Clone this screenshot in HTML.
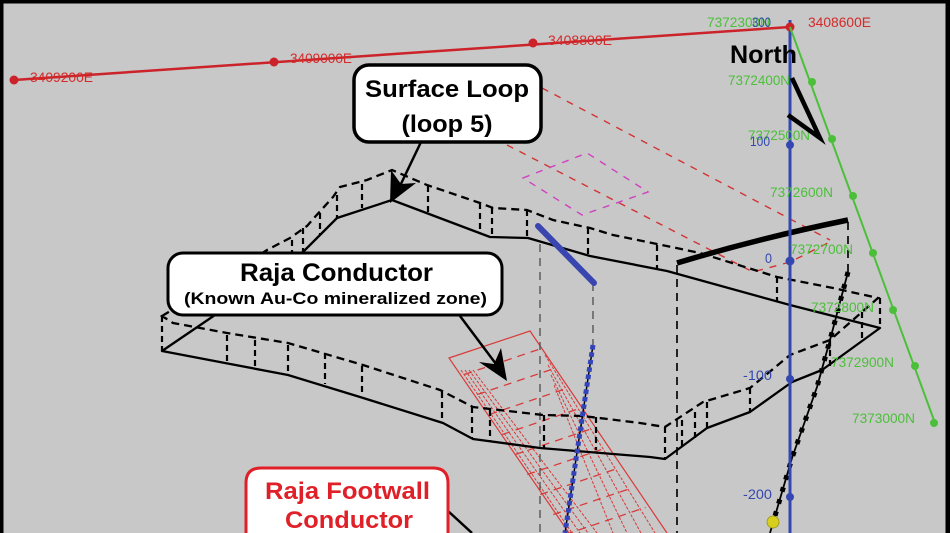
<!DOCTYPE html>
<html><head><meta charset="utf-8"><style>
html,body{margin:0;padding:0;background:#c8c8c8;width:950px;height:533px;overflow:hidden;}
svg{display:block;}
text{font-family:"Liberation Sans",Arial,sans-serif;}
</style></head><body>
<svg width="950" height="533" viewBox="0 0 950 533" xmlns="http://www.w3.org/2000/svg">
<rect x="0" y="0" width="950" height="533" fill="#c8c8c8"/>
<defs>
<clipPath id="pl"><polygon points="449,358 530,331 680,560 580,560"/></clipPath>
<clipPath id="fr"><rect x="0" y="0" width="950" height="533"/></clipPath>
</defs>
<g clip-path="url(#fr)">

<!-- red conductor plate -->
<g clip-path="url(#pl)" fill="none" stroke="#d83a3a">
<g stroke-width="1.3" stroke-dasharray="8 6">
<line x1="451" y1="379" x2="611" y2="325"/>
<line x1="464" y1="399" x2="624" y2="345"/>
<line x1="476" y1="419" x2="636" y2="365"/>
<line x1="489" y1="439" x2="649" y2="385"/>
<line x1="502" y1="459" x2="662" y2="405"/>
<line x1="514" y1="479" x2="674" y2="425"/>
<line x1="527" y1="499" x2="687" y2="445"/>
<line x1="540" y1="519" x2="700" y2="465"/>
<line x1="552" y1="539" x2="712" y2="485"/>
</g>
</g>
<g fill="none" stroke="#d83a3a" stroke-width="1" stroke-dasharray="3 1.5">
<line x1="461" y1="370" x2="572" y2="533"/>
<line x1="465" y1="370" x2="580" y2="533"/>
<line x1="469" y1="370" x2="588" y2="533"/>
<line x1="473" y1="370" x2="597" y2="533"/>
<line x1="545" y1="355" x2="655" y2="533"/>
<line x1="548" y1="365" x2="641" y2="533"/>
<line x1="551" y1="375" x2="627" y2="533"/>
<line x1="554" y1="385" x2="613" y2="533"/>
</g>
<polyline points="569,533 449,358 530,331 667,533" fill="none" stroke="#d83a3a" stroke-width="1.2"/>

<!-- red dashed loop -->
<g fill="none" stroke="#d23434" stroke-width="1.4" stroke-dasharray="7 7">
<polyline points="507,145 753,272 790,262 830,242"/>
<line x1="542" y1="88" x2="830" y2="240"/>
</g>
<!-- magenta rhombus -->
<polygon points="523,178 587,153 648,192 582,215" fill="none" stroke="#d040c0" stroke-width="1.4" stroke-dasharray="7 7"/>

<!-- long grey dashed verticals -->
<g stroke="#555" stroke-width="1.4" stroke-dasharray="8 6" fill="none">
<line x1="540" y1="244" x2="540" y2="533"/>
<line x1="593" y1="283" x2="593" y2="345"/>
</g>
<g stroke="#111" stroke-width="1.8" stroke-dasharray="8 6" fill="none">
<line x1="677" y1="265" x2="677" y2="533"/>
<line x1="848" y1="222" x2="848" y2="272"/>
</g>

<!-- loop solid -->
<polygon points="162,351 215,315 267,282 305,250 337,218 392,200 490,237 528,238 590,256 667,271 790,305 880,328 822,370 792,382 750,412 707,428 665,459 650,457 540,448 473,439 443,423 360,397 288,375 225,363" fill="none" stroke="#000" stroke-width="2.3" stroke-linejoin="round"/>
<!-- loop dashed -->
<polygon points="162,316 215,284 267,250 290,238 307,226 314,218 333,197 340,187 367,180 392,170 427,185 480,203 493,208 527,210 553,220 590,228 613,235 657,244 700,253 777,277 833,288 878,298 830,340 790,355 750,388 703,402 665,427 640,423 583,416 543,415 473,407 440,390 363,365 288,343 227,333 173,323" fill="none" stroke="#000" stroke-width="2.3" stroke-dasharray="8 5"/>
<!-- ticks -->
<g stroke="#000" stroke-width="2.2" stroke-dasharray="6 4" fill="none">
<line x1="162" y1="316" x2="162" y2="351"/>
<line x1="227" y1="335" x2="227" y2="363"/>
<line x1="255" y1="340" x2="255" y2="369"/>
<line x1="288" y1="345" x2="288" y2="375"/>
<line x1="325" y1="353" x2="325" y2="384"/>
<line x1="362" y1="366" x2="362" y2="396"/>
<line x1="442" y1="392" x2="442" y2="423"/>
<line x1="472" y1="407" x2="472" y2="438"/>
<line x1="490" y1="410" x2="490" y2="441"/>
<line x1="544" y1="415" x2="544" y2="448"/>
<line x1="596" y1="417" x2="596" y2="450"/>
<line x1="665" y1="427" x2="665" y2="458"/>
<line x1="682" y1="420" x2="682" y2="448"/>
<line x1="695" y1="412" x2="695" y2="438"/>
<line x1="707" y1="402" x2="707" y2="428"/>
<line x1="750" y1="388" x2="750" y2="412"/>
<line x1="830" y1="340" x2="830" y2="368"/>
<line x1="862" y1="312" x2="862" y2="341"/>
<line x1="880" y1="298" x2="880" y2="328"/>
<line x1="292" y1="240" x2="292" y2="262"/>
<line x1="303" y1="228" x2="303" y2="251"/>
<line x1="320" y1="213" x2="320" y2="235"/>
<line x1="337" y1="195" x2="337" y2="219"/>
<line x1="362" y1="184" x2="362" y2="208"/>
<line x1="428" y1="186" x2="428" y2="213"/>
<line x1="480" y1="203" x2="480" y2="233"/>
<line x1="492" y1="208" x2="492" y2="237"/>
<line x1="527" y1="210" x2="527" y2="238"/>
<line x1="588" y1="228" x2="588" y2="256"/>
<line x1="657" y1="245" x2="657" y2="269"/>
<line x1="777" y1="277" x2="777" y2="301"/>
</g>

<!-- thick black -->
<path d="M677,263 Q760,238 848,220" fill="none" stroke="#000" stroke-width="5.5"/>

<!-- blue drill hole -->
<line x1="538" y1="226" x2="594" y2="283" stroke="#3a46b0" stroke-width="6" stroke-linecap="round"/>
<line x1="593" y1="345" x2="565" y2="533" stroke="#000" stroke-width="1.5"/>
<line x1="593" y1="345" x2="565" y2="533" stroke="#3344bb" stroke-width="5" stroke-dasharray="4.5 3"/>

<!-- black drill hole -->
<polyline points="848,272 830,340 817,387 792,458 770,533" fill="none" stroke="#000" stroke-width="1.8"/>
<polyline points="848,272 830,340 817,387 792,458 770,533" fill="none" stroke="#000" stroke-width="5" stroke-dasharray="4.5 8"/>

<!-- blue vertical -->
<line x1="790" y1="20" x2="790" y2="533" stroke="#3447b0" stroke-width="3"/>
<g fill="#3447b0">
<circle cx="790" cy="145" r="4"/><circle cx="790" cy="261" r="4.5"/><circle cx="790" cy="379" r="4"/><circle cx="790" cy="497" r="4"/>
</g>
<circle cx="773" cy="522" r="6" fill="#d6cf1e" stroke="#9a9410" stroke-width="0.8"/>

<!-- red easting line -->
<line x1="14" y1="80" x2="790" y2="27" stroke="#cc2229" stroke-width="2.5"/>
<g fill="#cc2229">
<circle cx="14" cy="80" r="4.5"/><circle cx="274" cy="62" r="4.5"/><circle cx="533" cy="43" r="4.5"/><circle cx="790" cy="27" r="4.5"/>
</g>
<g fill="#d42a2a" font-size="14">
<text x="30" y="82" textLength="63" lengthAdjust="spacingAndGlyphs">3409200E</text>
<text x="290" y="63" textLength="62" lengthAdjust="spacingAndGlyphs">3409000E</text>
<text x="548" y="45" textLength="64" lengthAdjust="spacingAndGlyphs">3408800E</text>
<text x="808" y="27" textLength="63" lengthAdjust="spacingAndGlyphs">3408600E</text>
</g>

<!-- green northing line -->
<line x1="790" y1="27" x2="935" y2="423" stroke="#4cbf3a" stroke-width="2"/>
<g fill="#4cbf3a">
<circle cx="812" cy="82" r="4"/><circle cx="832" cy="139" r="4"/><circle cx="853" cy="196" r="4"/><circle cx="873" cy="253" r="4"/><circle cx="893" cy="310" r="4"/><circle cx="915" cy="366" r="4"/><circle cx="934" cy="423" r="4"/>
</g>
<g fill="#4cbf3a" font-size="14">
<text x="707" y="27" textLength="63" lengthAdjust="spacingAndGlyphs">7372300N</text>
<text x="728" y="85" textLength="62" lengthAdjust="spacingAndGlyphs">7372400N</text>
<text x="748" y="140" textLength="62" lengthAdjust="spacingAndGlyphs">7372500N</text>
<text x="770" y="197" textLength="63" lengthAdjust="spacingAndGlyphs">7372600N</text>
<text x="790" y="254" textLength="63" lengthAdjust="spacingAndGlyphs">7372700N</text>
<text x="811" y="312" textLength="63" lengthAdjust="spacingAndGlyphs">7372800N</text>
<text x="831" y="367" textLength="63" lengthAdjust="spacingAndGlyphs">7372900N</text>
<text x="852" y="423" textLength="63" lengthAdjust="spacingAndGlyphs">7373000N</text>
</g>
<g fill="#3447b0" font-size="14">
<text x="752" y="27" textLength="19" lengthAdjust="spacingAndGlyphs">300</text>
<text x="750" y="146" textLength="20" lengthAdjust="spacingAndGlyphs">100</text>
<text x="765" y="263" textLength="7" lengthAdjust="spacingAndGlyphs">0</text>
<text x="743" y="380" textLength="29" lengthAdjust="spacingAndGlyphs">-100</text>
<text x="743" y="499" textLength="29" lengthAdjust="spacingAndGlyphs">-200</text>
</g>

<!-- North -->
<text x="730" y="63" font-size="25" font-weight="bold" fill="#000" textLength="67" lengthAdjust="spacingAndGlyphs">North</text>
<polyline points="792,78 820,138 788,115" fill="none" stroke="#000" stroke-width="4.5" stroke-linejoin="miter"/>

<!-- Surface Loop callout -->
<line x1="421" y1="142" x2="399" y2="188" stroke="#000" stroke-width="2.5"/>
<polygon points="390,203 391,170 401,184 416,183" fill="#000"/>
<rect x="354" y="65" width="187" height="77" rx="15" ry="15" fill="#fff" stroke="#000" stroke-width="3.5"/>
<text x="447" y="97" font-size="24" font-weight="bold" text-anchor="middle" textLength="164" lengthAdjust="spacingAndGlyphs">Surface Loop</text>
<text x="447" y="132" font-size="24" font-weight="bold" text-anchor="middle" textLength="91" lengthAdjust="spacingAndGlyphs">(loop 5)</text>

<!-- Raja Conductor callout -->
<line x1="460" y1="316" x2="496" y2="364" stroke="#000" stroke-width="2.5"/>
<polygon points="507,381 479,362 494,364 501,348" fill="#000"/>
<rect x="168" y="253" width="334" height="62" rx="15" ry="15" fill="#fff" stroke="#000" stroke-width="3"/>
<text x="336.5" y="281" font-size="25" font-weight="bold" text-anchor="middle" textLength="193" lengthAdjust="spacingAndGlyphs">Raja Conductor</text>
<text x="335.5" y="304" font-size="17" font-weight="bold" text-anchor="middle" textLength="303" lengthAdjust="spacingAndGlyphs">(Known Au-Co mineralized zone)</text>

<!-- Raja Footwall callout -->
<line x1="448" y1="511" x2="472" y2="533" stroke="#000" stroke-width="2.5"/>
<path d="M246,533 L246,483 Q246,468 261,468 L433,468 Q448,468 448,483 L448,533" fill="#fff" stroke="#e02028" stroke-width="3"/>
<text x="347.5" y="499" font-size="24" font-weight="bold" fill="#e02028" text-anchor="middle" textLength="165" lengthAdjust="spacingAndGlyphs">Raja Footwall</text>
<text x="349" y="528" font-size="24" font-weight="bold" fill="#e02028" text-anchor="middle" textLength="128" lengthAdjust="spacingAndGlyphs">Conductor</text>

<!-- border -->
<rect x="0" y="0" width="950" height="3.5" fill="#000"/>
<rect x="0" y="0" width="3.5" height="533" fill="#000"/>
<rect x="945.5" y="0" width="4.5" height="533" fill="#000"/>
</g>
</svg>
</body></html>
